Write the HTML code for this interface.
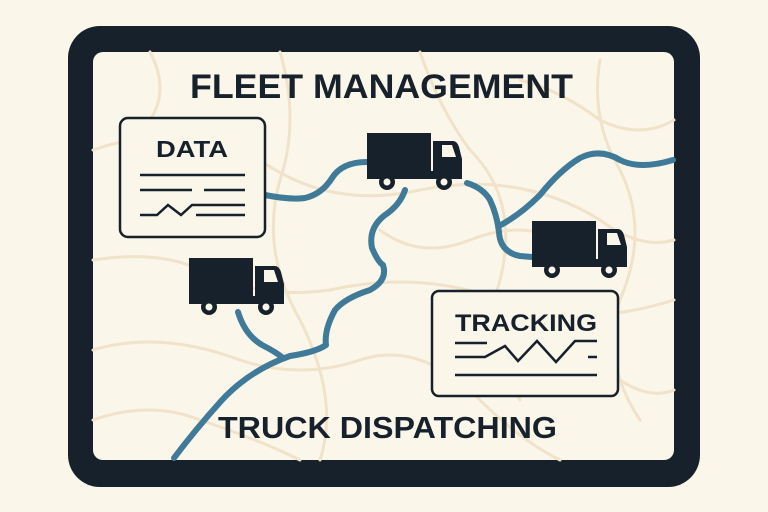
<!DOCTYPE html>
<html><head><style>
body{margin:0;width:768px;height:512px;background:#fbf6ea;overflow:hidden}
svg{display:block}
text{font-family:"Liberation Sans",sans-serif;font-weight:bold;fill:#17212b}
</style></head><body>
<svg width="768" height="512" viewBox="0 0 768 512">
<defs>
<g id="truck">
<rect x="0" y="0" width="64" height="38" fill="#17212b"/>
<path d="M66 8 H86 Q90 8 92 14 L95 26 V46 H66 Z" fill="#17212b"/>
<path d="M75 12 H85 L89 24 H75 Z" fill="#fbf6ea"/>
<rect x="0" y="38" width="95" height="8" fill="#17212b"/>
<circle cx="20" cy="49" r="8" fill="#17212b"/><circle cx="20" cy="49" r="3.5" fill="#fbf6ea"/>
<circle cx="77" cy="49" r="8" fill="#17212b"/><circle cx="77" cy="49" r="3.5" fill="#fbf6ea"/>
</g>
</defs>
<rect x="68" y="26" width="632" height="461" rx="32" fill="#17212b"/>
<rect x="93" y="52" width="581" height="408" rx="10" fill="#fbf6ea"/>
<g fill="none" stroke="#f1e2ca" stroke-width="3" stroke-linecap="round">
<path d="M93 150 Q180 120 260 160 Q330 210 420 190 Q520 170 600 220 Q640 250 674 240"/>
<path d="M93 260 Q160 250 200 270 Q260 300 330 290 Q420 270 500 300 Q580 330 674 300"/>
<path d="M93 350 Q160 330 240 360 Q300 380 360 360 Q420 340 480 400 Q520 440 560 460"/>
<path d="M280 52 Q300 120 280 180 Q260 250 300 320 Q340 400 320 460"/>
<path d="M420 52 Q440 110 470 150 Q520 200 500 280 Q480 340 520 400"/>
<path d="M600 60 Q590 120 620 170 Q650 230 620 300 Q600 360 640 420"/>
<path d="M93 420 Q150 400 200 420 Q260 440 300 460"/>
<path d="M520 80 Q560 90 600 120 Q640 140 674 120"/>
<path d="M150 52 Q170 90 150 120"/>
<path d="M380 230 Q420 260 470 240 Q520 220 560 240"/>
<path d="M620 380 Q650 400 674 390"/>
</g>
<g fill="none" stroke="#3f7a99" stroke-width="6" stroke-linecap="round" stroke-linejoin="round">
<path d="M265 195 Q290 200 305 198 Q322 194 332 178 Q342 162 367 162"/>
<path d="M405 190 Q400 205 385 215 Q368 228 372 248 Q378 262 383 265 Q388 280 370 290 Q345 298 335 310 Q324 330 326 345 Q316 352 290 356 Q250 370 222 400 Q195 430 174 458"/>
<path d="M238 312 Q245 335 262 345 Q276 352 283 358"/>
<path d="M467 183 Q483 188 490 200 Q497 215 499 232 Q500 252 520 256 L532 257"/>
<path d="M499 226 Q520 215 540 195 Q560 170 580 158 Q600 148 620 160 Q640 170 673 160"/>
</g>
<rect x="120" y="118" width="145" height="119" rx="8" fill="#fbf6ea" stroke="#17212b" stroke-width="2.5"/>
<text x="156" y="157" font-size="23" textLength="72" lengthAdjust="spacingAndGlyphs">DATA</text>
<g stroke="#17212b" stroke-width="2.5" fill="none">
<path d="M140 175 H245 M140 190 H192 M204 190 H245 M140 215 H157 L168 205 L181 215 L192 205 H245 M196 215 H245"/>
</g>
<rect x="432" y="291" width="186" height="105" rx="7" fill="#fbf6ea" stroke="#17212b" stroke-width="2.5"/>
<text x="455" y="331" font-size="24" textLength="142" lengthAdjust="spacingAndGlyphs">TRACKING</text>
<g stroke="#17212b" stroke-width="2.5" fill="none">
<path d="M455 343 H487 M455 357 H485 L505 346 L518 361 L537 341 L556 362 L575 341 H597 M588 357 H597 M455 375 H597"/>
</g>
<use href="#truck" x="367" y="133"/>
<use href="#truck" x="189" y="258"/>
<use href="#truck" x="532" y="221"/>
<text x="190" y="98" font-size="34" textLength="383" lengthAdjust="spacingAndGlyphs">FLEET MANAGEMENT</text>
<text x="218" y="438" font-size="31" textLength="339" lengthAdjust="spacingAndGlyphs">TRUCK DISPATCHING</text>
</svg>
</body></html>
